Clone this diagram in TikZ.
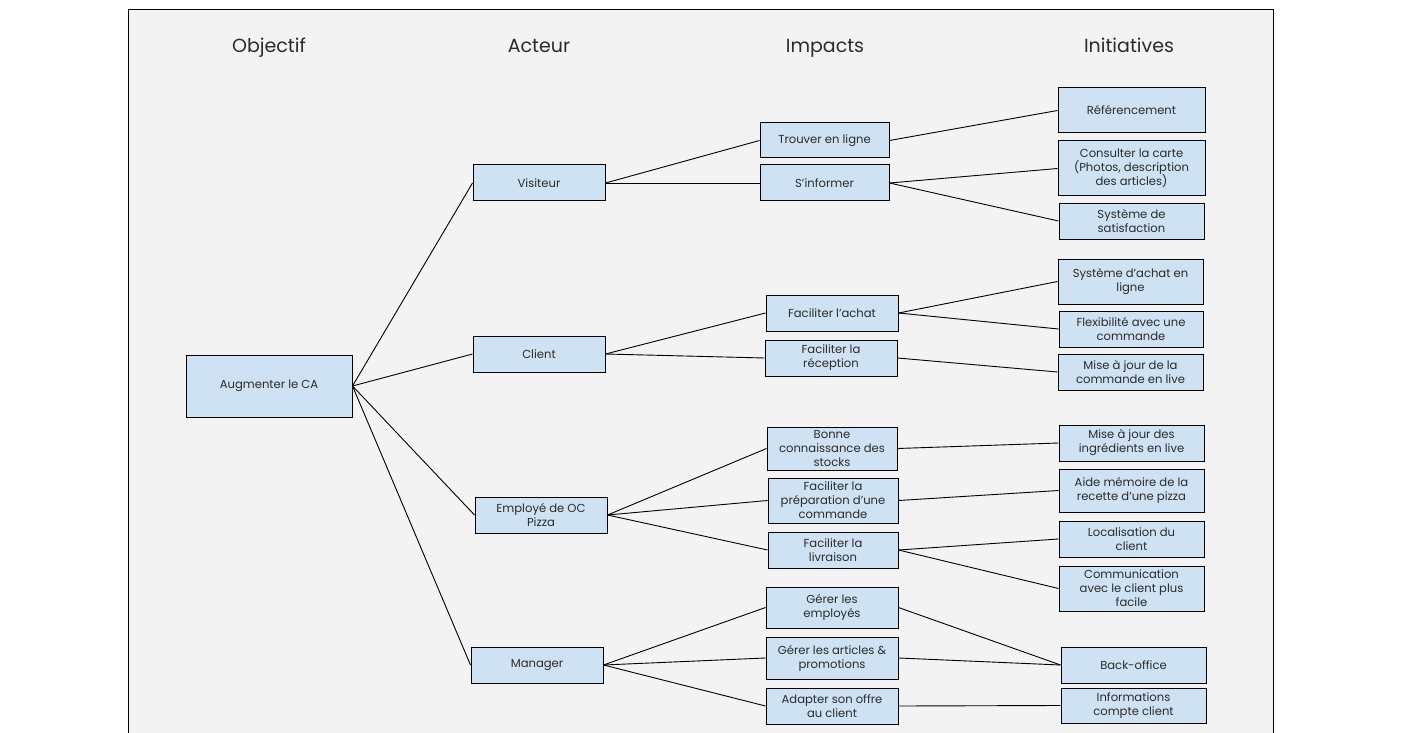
\documentclass[tikz,border=0pt]{standalone}
\usepackage{fontspec}
\setmainfont{Poppins}
\definecolor{paper}{HTML}{F3F3F3}
\definecolor{boxfill}{HTML}{CFE2F3}
\definecolor{ink}{HTML}{2B2B2B}
\begin{document}
\begin{tikzpicture}[x=1pt,y=-1pt,
  box/.style={draw=black,line width=1pt,fill=boxfill,text=ink,inner sep=0pt,
    align=center,font=\fontsize{11.6}{14}\selectfont},
  head/.style={text=ink,anchor=base,font=\fontsize{19}{22}\selectfont},
  link/.style={line width=0.9pt,draw=black}]
\useasboundingbox (0,0) rectangle (1401,733);
\draw[fill=paper,line width=1pt] (128,10) rectangle (1273,745);

% column headings
\node[head] (h1) at (269,53) {Objectif};
\node[head] (h2) at (539,53) {Acteur};
\node[head] (h3) at (825,53) {Impacts};
\node[head] (h4) at (1129,53) {Initiatives};

% objective
\node[box,minimum width=166pt,minimum height=62pt] (ca) at (269,386) {Augmenter le CA};

% actors
\node[box,minimum width=132pt,minimum height=36pt] (vis) at (539,183) {Visiteur};
\node[box,minimum width=132pt,minimum height=36pt] (cli) at (539,354) {Client};
\node[box,minimum width=132pt,minimum height=36pt] (emp) at (541,515) {Employé de OC\\Pizza};
\node[box,minimum width=132pt,minimum height=36pt] (man) at (537,665) {Manager};

% impacts
\node[box,minimum width=129pt,minimum height=35pt] (trou) at (824.5,140.5) {Trouver en ligne};
\node[box,minimum width=129pt,minimum height=36pt] (info) at (824.5,183) {S’informer};
\node[box,minimum width=132pt,minimum height=36pt] (ach) at (832,313) {Faciliter l’achat};
\node[box,minimum width=132pt,minimum height=36pt] (rec) at (831,358) {Faciliter la\\réception};
\node[box,minimum width=130pt,minimum height=43pt] (stk) at (832,448.5) {Bonne\\connaissance des\\stocks};
\node[box,minimum width=130pt,minimum height=45pt] (prep) at (833,500.5) {Faciliter la\\préparation d’une\\commande};
\node[box,minimum width=130pt,minimum height=36pt] (liv) at (833,550) {Faciliter la\\livraison};
\node[box,minimum width=132pt,minimum height=41pt] (gemp) at (832,607.5) {Gérer les\\employés};
\node[box,minimum width=132pt,minimum height=42pt] (gart) at (832,658) {Gérer les articles \&\\promotions};
\node[box,minimum width=132pt,minimum height=36pt] (adap) at (832,706) {Adapter son offre\\au client};

% initiatives
\node[box,minimum width=147pt,minimum height=45pt] (ref) at (1131.5,110.5) {Référencement};
\node[box,minimum width=147pt,minimum height=55pt] (cart) at (1131.5,168.5) {Consulter la carte\\(Photos, description\\des articles)};
\node[box,minimum width=145pt,minimum height=36pt] (sat) at (1131.5,221) {Système de\\satisfaction};
\node[box,minimum width=145pt,minimum height=45pt] (sach) at (1130.5,281.5) {Système d’achat en\\ligne};
\node[box,minimum width=144pt,minimum height=36pt] (flex) at (1131,329) {Flexibilité avec une\\commande};
\node[box,minimum width=145pt,minimum height=36pt] (majc) at (1130.5,372) {Mise à jour de la\\commande en live};
\node[box,minimum width=145pt,minimum height=36pt] (maji) at (1131.5,443) {Mise à jour des\\ingrédients en live};
\node[box,minimum width=145pt,minimum height=43pt] (aide) at (1131.5,490.5) {Aide mémoire de la\\recette d’une pizza};
\node[box,minimum width=145pt,minimum height=36pt] (loc) at (1131.5,539) {Localisation du\\client};
\node[box,minimum width=145pt,minimum height=45pt] (com) at (1131.5,588.5) {Communication\\avec le client plus\\facile};
\node[box,minimum width=145pt,minimum height=36pt] (back) at (1133.5,665) {Back-office};
\node[box,minimum width=145pt,minimum height=35pt] (cpt) at (1133.5,705.5) {Informations\\compte client};

% objective to actors
\foreach \a in {vis,cli,emp,man}
  \draw[link] (ca.east) -- (\a.west);

% actors to impacts
\draw[link] (vis.east) -- (trou.west);
\draw[link] (vis.east) -- (info.west);
\draw[link] (cli.east) -- (ach.west);
\draw[link] (cli.east) -- (rec.west);
\draw[link] (emp.east) -- (stk.west);
\draw[link] (emp.east) -- (prep.west);
\draw[link] (emp.east) -- (liv.west);
\draw[link] (man.east) -- (gemp.west);
\draw[link] (man.east) -- (gart.west);
\draw[link] (man.east) -- (adap.west);

% impacts to initiatives
\draw[link] (trou.east) -- (ref.west);
\draw[link] (info.east) -- (cart.west);
\draw[link] (info.east) -- (sat.west);
\draw[link] (ach.east) -- (sach.west);
\draw[link] (ach.east) -- (flex.west);
\draw[link] (rec.east) -- (majc.west);
\draw[link] (stk.east) -- (maji.west);
\draw[link] (prep.east) -- (aide.west);
\draw[link] (liv.east) -- (loc.west);
\draw[link] (liv.east) -- (com.west);
\draw[link] (gemp.east) -- (back.west);
\draw[link] (gart.east) -- (back.west);
\draw[link] (adap.east) -- (cpt.west);
\end{tikzpicture}
\end{document}
